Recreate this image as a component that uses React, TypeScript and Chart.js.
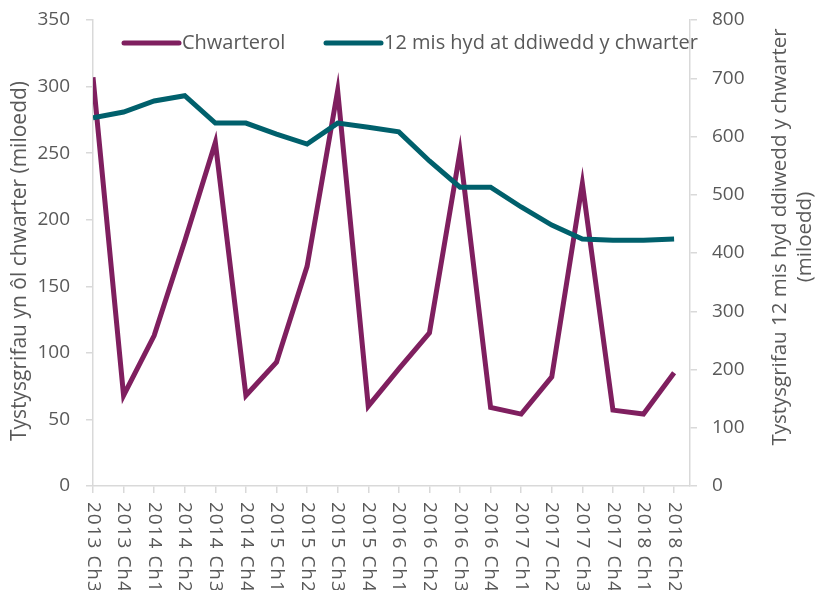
import React, { useEffect, useRef } from "react";
import { Chart, registerables } from "chart.js";

Chart.register(...registerables);

const categories = [
  "2013 Ch3", "2013 Ch4", "2014 Ch1", "2014 Ch2", "2014 Ch3", "2014 Ch4",
  "2015 Ch1", "2015 Ch2", "2015 Ch3", "2015 Ch4", "2016 Ch1", "2016 Ch2",
  "2016 Ch3", "2016 Ch4", "2017 Ch1", "2017 Ch2", "2017 Ch3", "2017 Ch4",
  "2018 Ch1", "2018 Ch2",
];
const quarterly = [307, 68, 113, 184, 258, 68, 93, 165, 297, 60, 88, 115, 251, 59, 54, 82, 227, 57, 54, 85];
const rolling12 = [632, 642, 661, 670, 623, 623, 604, 587, 623, 616, 608, 558, 513, 513, 479, 448, 424, 422, 422, 424];

const seriesNames = ["Chwarterol", "12 mis hyd at ddiwedd y chwarter"];
const leftTitle = "Tystysgrifau yn ôl chwarter (miloedd)";
const rightTitle = ["Tystysgrifau 12 mis hyd ddiwedd y chwarter", "(miloedd)"];

const PURPLE = "#7F1F5F";
const TEAL = "#00606C";
const AXIS = "#d9d9d9";
const TEXT = "#595959";
const FONT = "Open Sans";

export default function App() {
  const ref = useRef<HTMLCanvasElement>(null);
  useEffect(() => {
    if (!ref.current) return;
    const overlay = {
      id: "overlay",
      afterDraw(chart: any) {
        const ctx = chart.ctx;
        const xs = chart.scales.x;
        const area = chart.chartArea;
        ctx.save();
        ctx.fillStyle = TEXT;
        // x labels rotated reading top to bottom
        ctx.font = `19px "${FONT}"`;
        categories.forEach((c, i) => {
          const px = xs.getPixelForValue(i);
          ctx.save();
          ctx.translate(px, area.bottom + 16);
          ctx.rotate(Math.PI / 2);
          ctx.textAlign = "left";
          ctx.textBaseline = "middle";
          (ctx as any).letterSpacing = "1px";
          ctx.fillText(c, 0, 0);
          ctx.restore();
        });
        // axis titles
        ctx.font = `21px "${FONT}"`;
        ctx.save();
        ctx.translate(20, 261);
        ctx.rotate(-Math.PI / 2);
        ctx.textAlign = "center";
        ctx.textBaseline = "middle";
        ctx.fillText(leftTitle, 0, 0);
        ctx.restore();
        ctx.font = `20.5px "${FONT}"`;
        ctx.save();
        ctx.translate(780, 237);
        ctx.rotate(-Math.PI / 2);
        ctx.textAlign = "center";
        ctx.textBaseline = "middle";
        ctx.fillText(rightTitle[0], 0, 0);
        ctx.fillText(rightTitle[1], 0, 25);
        ctx.restore();
        // legend
        ctx.font = `20px "${FONT}"`;
        const items = [
          { name: seriesNames[0], color: PURPLE, x: 124 },
          { name: seriesNames[1], color: TEAL, x: 326 },
        ];
        items.forEach((it) => {
          ctx.strokeStyle = it.color;
          ctx.lineWidth = 5;
          ctx.lineCap = "round";
          ctx.beginPath();
          ctx.moveTo(it.x, 43);
          ctx.lineTo(it.x + 55, 43);
          ctx.stroke();
          ctx.textAlign = "left";
          ctx.textBaseline = "middle";
          ctx.fillText(it.name, it.x + 58, 43);
        });
        ctx.restore();
      },
    };
    const tickFont = { family: FONT, size: 19 };
    const chart = new Chart(ref.current, {
      type: "line",
      data: {
        datasets: [
          {
            label: seriesNames[0],
            data: quarterly.map((v, i) => ({ x: i, y: v })),
            borderColor: PURPLE,
            backgroundColor: PURPLE,
            borderWidth: 5,
            pointRadius: 0,
            tension: 0,
            yAxisID: "y",
            order: 1,
          },
          {
            label: seriesNames[1],
            data: rolling12.map((v, i) => ({ x: i, y: v })),
            borderColor: TEAL,
            backgroundColor: TEAL,
            borderWidth: 5,
            pointRadius: 0,
            tension: 0,
            yAxisID: "y1",
            order: 0,
          },
        ],
      },
      options: {
        animation: false,
        responsive: false,
        devicePixelRatio: 1,
        layout: { padding: { top: 20, left: 0, right: 0, bottom: 0 } },
        plugins: { legend: { display: false }, tooltip: { enabled: false } },
        scales: {
          x: {
            type: "linear",
            min: 0,
            max: 19.52,
            ticks: { display: false },
            afterBuildTicks: (s: any) => {
              s.ticks = categories.map((_, i) => ({ value: i }));
            },
            afterFit: (s: any) => {
              s.height = 104;
              s.paddingLeft = 0;
              s.paddingRight = 0;
            },
            grid: { drawOnChartArea: false, drawTicks: true, tickLength: 7, color: AXIS, lineWidth: 1.5 },
            border: { color: AXIS, width: 1.5 },
          },
          y: {
            position: "left",
            min: 0,
            max: 350,
            ticks: { stepSize: 50, padding: 16, color: TEXT, font: tickFont },
            afterFit: (s: any) => {
              s.width = 93;
              s.paddingTop = 0;
              s.paddingBottom = 0;
            },
            grid: { drawOnChartArea: false, drawTicks: true, tickLength: 7, color: AXIS, lineWidth: 1.5 },
            border: { color: AXIS, width: 1.5 },
          },
          y1: {
            position: "right",
            min: 0,
            max: 800,
            ticks: { stepSize: 100, padding: 15, color: TEXT, font: tickFont },
            afterFit: (s: any) => {
              s.width = 126;
              s.paddingTop = 0;
              s.paddingBottom = 0;
            },
            grid: { drawOnChartArea: false, drawTicks: true, tickLength: 7, color: AXIS, lineWidth: 1.5 },
            border: { color: AXIS, width: 1.5 },
          },
        },
      },
      plugins: [overlay],
    });
    return () => chart.destroy();
  }, []);
  return (
    <div style={{ position: "fixed", left: 0, top: 0, width: 816, height: 590, background: "#fff" }}>
      <canvas ref={ref} width={816} height={590} style={{ width: 816, height: 590 }} />
    </div>
  );
}
